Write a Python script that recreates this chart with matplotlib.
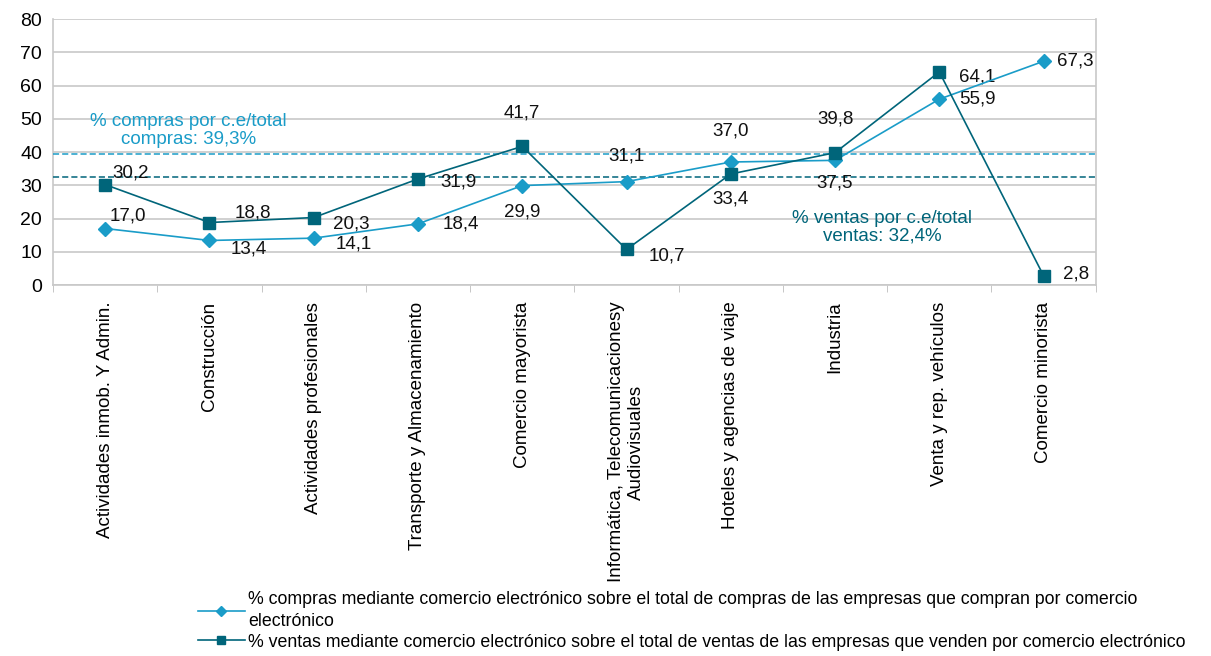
import numpy as np
import matplotlib.pyplot as plt

plt.rcParams['font.family'] = ['Liberation Sans', 'DejaVu Sans']

categorias = ['Actividades inmob. Y Admin.', 'Construcción', 'Actividades profesionales',
              'Transporte y Almacenamiento', 'Comercio mayorista',
              'Informática, Telecomunicacionesy\nAudiovisuales', 'Hoteles y agencias de viaje',
              'Industria', 'Venta y rep. vehículos', 'Comercio minorista']
compras = [17.0, 13.4, 14.1, 18.4, 29.9, 31.1, 37.0, 37.5, 55.9, 67.3]
ventas = [30.2, 18.8, 20.3, 31.9, 41.7, 10.7, 33.4, 39.8, 64.1, 2.8]
total_compras = 39.3
total_ventas = 32.4

nombre_compras = ('% compras mediante comercio electrónico sobre el total de compras de las empresas '
                  'que compran por comercio\nelectrónico')
nombre_ventas = ('% ventas mediante comercio electrónico sobre el total de ventas de las empresas '
                 'que venden por comercio electrónico')

c_compras = '#1a9cc8'
c_ventas = '#00657a'

# label offsets in points (dx, dy, ha, va)
off_compras = [(3, 3, 'left', 'bottom'), (15, -6, 'left', 'center'), (16, -4, 'left', 'center'),
               (18, 0, 'left', 'center'), (0, -13, 'center', 'top'), (0, 12, 'center', 'bottom'),
               (0, 16, 'center', 'bottom'), (0, -10, 'center', 'top'), (14, 0, 'left', 'center'),
               (10, 0, 'left', 'center')]
off_ventas = [(5, 2, 'left', 'bottom'), (18, 7, 'left', 'center'), (14, -5, 'left', 'center'),
              (16, -2, 'left', 'center'), (0, 18, 'center', 'bottom'), (16, -5, 'left', 'center'),
              (0, -12, 'center', 'top'), (0, 18, 'center', 'bottom'), (14, -4, 'left', 'center'),
              (14, 1, 'left', 'center')]

fig = plt.figure(figsize=(12.11, 6.56), dpi=100)
ax = fig.add_axes([0.0438, 0.5655, 0.861, 0.4055])

x = np.arange(len(categorias))
ax.plot(x, compras, color=c_compras, lw=1.2, marker='D', ms=7, label=nombre_compras, zorder=4)
ax.plot(x, ventas, color=c_ventas, lw=1.2, marker='s', ms=8, label=nombre_ventas, zorder=4)

ax.axhline(total_compras, color=c_compras, ls=(0, (4, 2)), lw=1.1, zorder=3)
ax.axhline(total_ventas, color=c_ventas, ls=(0, (4, 2)), lw=1.1, zorder=3)

for i in range(len(x)):
    dx, dy, ha, va = off_compras[i]
    ax.annotate(f'{compras[i]:.1f}'.replace('.', ','), (x[i], compras[i]), xytext=(dx, dy),
                textcoords='offset points', ha=ha, va=va, fontsize=13.5, color='#111111')
    dx, dy, ha, va = off_ventas[i]
    ax.annotate(f'{ventas[i]:.1f}'.replace('.', ','), (x[i], ventas[i]), xytext=(dx, dy),
                textcoords='offset points', ha=ha, va=va, fontsize=13.5, color='#111111')

ax.text(0.8, 46.5, '% compras por c.e/total\ncompras: 39,3%', color=c_compras, fontsize=13.5,
        ha='center', va='center', linespacing=1.05)
ax.text(7.45, 17.3, '% ventas por c.e/total\nventas: 32,4%', color=c_ventas, fontsize=13.5,
        ha='center', va='center', linespacing=1.05)

ax.set_xlim(-0.5, len(x) - 0.5)
ax.set_ylim(0, 80)
ax.set_yticks(np.arange(0, 81, 10))
ax.yaxis.grid(True, color='#c8c8c8', lw=1.2)
ax.set_axisbelow(True)
ax.tick_params(axis='y', length=0, labelsize=14, pad=8)

ax.set_xticks(x)
ax.set_xticklabels(categorias, rotation=90, fontsize=13.5, ha='center', va='top')
ax.set_xticks(np.arange(-0.5, len(x), 1), minor=True)
ax.tick_params(axis='x', which='major', length=0, pad=12)
ax.tick_params(axis='x', which='minor', length=5, color='#bdbdbd')

for s in ['left', 'right', 'bottom']:
    ax.spines[s].set_color('#c8c8c8')
    ax.spines[s].set_linewidth(1.2)
ax.spines['top'].set_visible(False)

leg = fig.legend(loc='lower left', bbox_to_anchor=(0.155, -0.008), frameon=False, fontsize=12.8,
                 handlelength=2.6, handletextpad=0.2, labelspacing=0.2, markerscale=0.75,
                 borderaxespad=0.2)
for t in leg.get_texts():
    t.set_linespacing(1.4)

fig.savefig('out.png', dpi=100)
